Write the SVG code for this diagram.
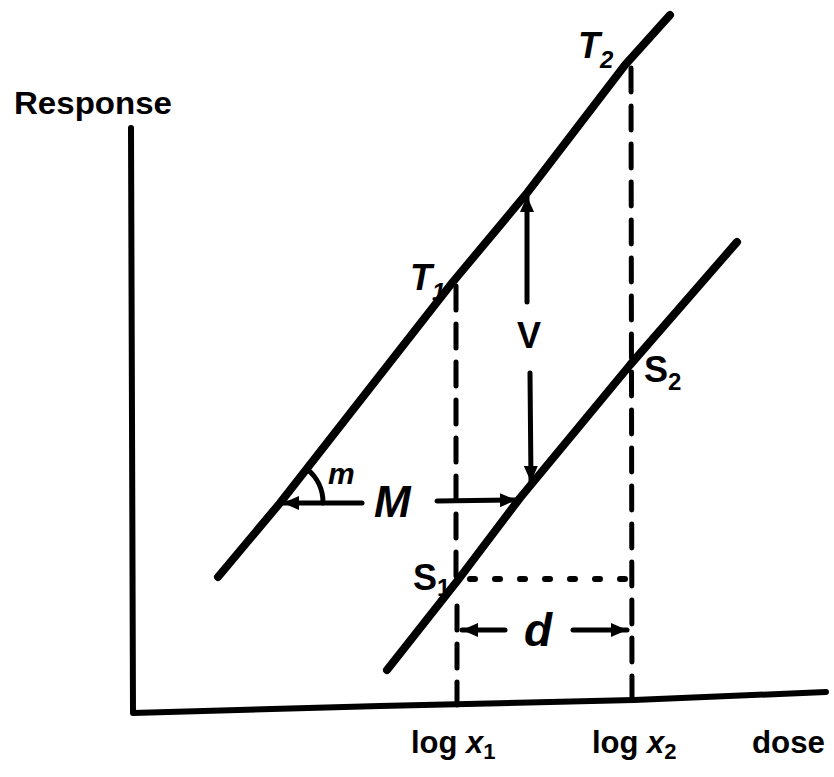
<svg xmlns="http://www.w3.org/2000/svg" width="834" height="777" viewBox="0 0 834 777">
<style>
.txt{font-family:"Liberation Sans",Arial,sans-serif;font-weight:bold;fill:#000}
.it{font-style:italic}
.main{fill:none;stroke:#000;stroke-width:8;stroke-linecap:round;stroke-linejoin:round}
.axis{fill:none;stroke:#000;stroke-width:6;stroke-linecap:round;stroke-linejoin:round}
.dash{fill:none;stroke:#000;stroke-width:5;stroke-dasharray:24 14;stroke-linecap:round}
.dot{fill:none;stroke:#000;stroke-width:6;stroke-dasharray:5 20;stroke-linecap:round}
.arr{fill:none;stroke:#000;stroke-width:5;stroke-linecap:round}
</style>
<defs>
<marker id="ah" markerUnits="userSpaceOnUse" markerWidth="18" markerHeight="14" refX="16" refY="7" orient="auto">
<path d="M0,0 L16,7 L0,14 Z" fill="#000"/>
</marker>
</defs>
<rect width="834" height="777" fill="#fff"/>
<g id="axes">
<path class="axis" d="M131,128 L132,420 L133,713 L380,706 L634,700 L826,692"/>
</g>
<g id="line-T">
<path class="main" d="M218,577 L280,503 L452,283 L527,193 L625,65 L670,15"/>
</g>
<g id="line-S">
<path class="main" d="M387,670 L458,580 L520,498 L630,365 L737,242"/>
</g>
<g id="connectors">
<path class="dash" d="M456,286 L456,580"/>
<path class="dash" d="M457,606 L457,705" stroke-dasharray="30 8 22 12 26 0"/>
<path class="dash" d="M631,68 L632,699"/>
<path class="dot" d="M470,579 L625,579"/>
<path class="arr" d="M527,302 L527,196" marker-end="url(#ah)"/>
<path class="arr" d="M530,373 L531,482" marker-end="url(#ah)"/>
<path class="arr" d="M362,503 L283,503" marker-end="url(#ah)"/>
<path class="arr" d="M437,501 L516,500" marker-end="url(#ah)"/>
<path class="arr" d="M505,630 L462,630" marker-end="url(#ah)"/>
<path class="arr" d="M573,630 L627,630" marker-end="url(#ah)"/>
<path class="arr" d="M307,469 A43,43 0 0 1 323,503"/>
</g>
<g id="labels">
<text class="txt" x="14" y="114" font-size="32" textLength="158" lengthAdjust="spacingAndGlyphs">Response</text>
<text class="txt it" x="578" y="58" font-size="36">T<tspan font-size="24" dy="10">2</tspan></text>
<text class="txt it" x="410" y="290" font-size="36">T<tspan font-size="24" dy="10">1</tspan></text>
<text class="txt" x="644" y="382" font-size="36">S<tspan font-size="24" dy="8">2</tspan></text>
<text class="txt" x="413" y="590" font-size="36">S<tspan font-size="24" dy="6">1</tspan></text>
<text class="txt" x="517" y="348" font-size="36">V</text>
<text class="txt it" x="328" y="484" font-size="30">m</text>
<text class="txt it" x="374" y="517" font-size="44">M</text>
<text class="txt it" x="524" y="646" font-size="46">d</text>
<text class="txt" x="411" y="753" font-size="31">log <tspan class="it">x</tspan><tspan font-size="22" dy="6">1</tspan></text>
<text class="txt" x="592" y="753" font-size="31">log <tspan class="it">x</tspan><tspan font-size="22" dy="6">2</tspan></text>
<text class="txt" x="752" y="753" font-size="32" textLength="73" lengthAdjust="spacingAndGlyphs">dose</text>
</g>
</svg>
